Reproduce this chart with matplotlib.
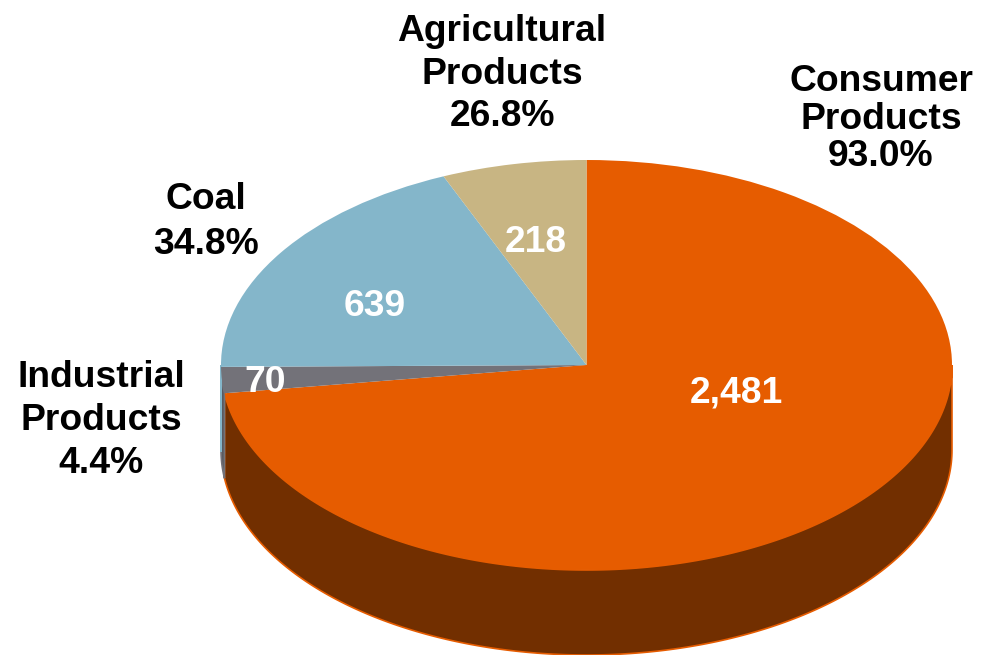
import numpy as np
import matplotlib
matplotlib.use("Agg")
import matplotlib.pyplot as plt

plt.rcParams["font.family"] = ["Liberation Sans", "DejaVu Sans"]

values = [2481, 70, 639, 218]
value_labels = ["2,481", "70", "639", "218"]
top_colors = ["#E65C00", "#737279", "#84B6CA", "#C8B583"]
side_colors = ["#722F00", "#5A5A60", "#84B6CA", "#C8B583"]
edge_colors = ["#E65C00", "#737279", "#84B6CA", "#C8B583"]
names = ["Consumer\nProducts\n93.0%", "Industrial\nProducts\n4.4%", "Coal\n34.8%", "Agricultural\nProducts\n26.8%"]

# pixel geometry of the tilted pie
cx, cy = 586.5, 365
rx, ry = 365.5, 205
depth = 85 / ry

fig = plt.figure(figsize=(9.92, 6.55), dpi=100)
ax = fig.add_axes([0, 0, 1, 1])

wedges, _ = ax.pie(values, colors=top_colors, startangle=90, counterclock=False, radius=1,
                   wedgeprops=dict(linewidth=0, zorder=3))
ax.set_aspect("auto")
ax.set_xlim(-cx / rx, (992 - cx) / rx)
ax.set_ylim((cy - 655) / ry, cy / ry)
ax.set_axis_off()

# side wall, only the part of each slice that faces the viewer
for w, sc, ec in zip(wedges, side_colors, edge_colors):
    a = w.theta1 % 360
    b = w.theta2 % 360
    if b <= a:
        b += 360
    a2, b2 = max(a, 180), min(b, 360)
    if b2 <= a2:
        continue
    t = np.radians(np.linspace(a2, b2, 200))
    xs = np.r_[np.cos(t), np.cos(t[::-1])]
    ys = np.r_[np.sin(t), np.sin(t[::-1]) - depth]
    ax.fill(xs, ys, facecolor=sc, edgecolor=ec, linewidth=1.2, zorder=2, clip_on=True)

# value labels sit on the slices
value_pos = [(736, 393), (265, 382), (375, 306), (536, 242)]
for (px, py), s in zip(value_pos, value_labels):
    ax.text((px - cx) / rx, (cy - py) / ry, s, color="white", fontsize=26.8, fontweight="bold",
            ha="center", va="center", zorder=5)

name_pos = [(881, 119), (101, 420.5), (206, 222), (502, 74)]
name_spacing = [1.09, 1.28, 1.35, 1.26]
for (px, py), s, ls in zip(name_pos, names, name_spacing):
    ax.text((px - cx) / rx, (cy - py) / ry, s, color="black", fontsize=26.8, fontweight="bold",
            ha="center", va="center", linespacing=ls, zorder=5)

fig.savefig("out.png", dpi=100)
